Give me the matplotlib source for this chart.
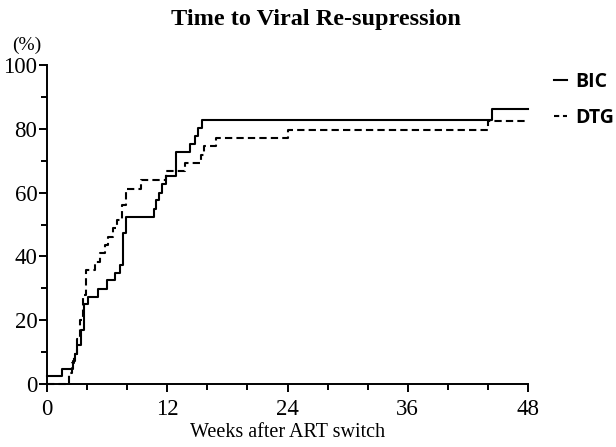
import matplotlib
matplotlib.use("Agg")
import matplotlib.pyplot as plt
from matplotlib.lines import Line2D
from matplotlib.ticker import MultipleLocator

# Kaplan-Meier style cumulative re-suppression (%), step after each time
bic_weeks = [0, 1.5, 2.6, 2.8, 3.0, 3.4, 3.7, 4.1, 5.1, 6.0, 6.8, 7.3, 7.6, 7.9,
             10.7, 10.9, 11.2, 11.5, 11.85, 12.9, 14.3, 14.8, 15.1, 15.5, 44.4, 48]
bic_pct = [2.4, 4.8, 7.1, 9.5, 12.2, 17.0, 25.0, 27.4, 29.8, 32.5, 34.8, 37.3, 47.2, 52.4,
           55.0, 57.6, 60.0, 62.6, 65.3, 72.6, 75.2, 77.6, 80.2, 82.8, 86.2, 86.2]

dtg_weeks = [0, 2.2, 2.5, 2.7, 3.0, 3.3, 3.6, 3.9, 4.8, 5.3, 5.8, 6.1, 6.6, 7.0, 7.5, 7.9,
             9.4, 11.9, 13.8, 15.4, 15.7, 16.9, 24.0, 44.0, 48]
dtg_pct = [0, 3.3, 6.5, 9.5, 14.0, 20.0, 28.0, 35.7, 38.3, 41.0, 43.6, 46.2, 48.8, 51.4, 56.1, 61.2,
           64.1, 66.7, 69.3, 71.8, 74.5, 77.0, 79.6, 82.4, 82.4]

x_ticks = [0, 12, 24, 36, 48]
y_ticks = [0, 20, 40, 60, 80, 100]

serif = "Liberation Serif"

fig = plt.figure(figsize=(6.16, 4.47), dpi=100)
ax = fig.add_axes([47 / 616, 1 - 384 / 447, 481 / 616, 319 / 447])

ax.plot(bic_weeks, bic_pct, drawstyle="steps-post", color="black", lw=1.5, clip_on=False)
ax.plot(dtg_weeks, dtg_pct, drawstyle="steps-post", color="black", lw=1.5,
        linestyle=(0, (3.5, 2)), clip_on=False)

ax.set_xlim(0, 48)
ax.set_ylim(0, 100)
ax.set_xticks(x_ticks)
ax.set_yticks(y_ticks)
ax.xaxis.set_minor_locator(MultipleLocator(4))
ax.yaxis.set_minor_locator(MultipleLocator(10))
ax.spines["top"].set_visible(False)
ax.spines["right"].set_visible(False)
for s in ("left", "bottom"):
    ax.spines[s].set_linewidth(1.4)
ax.tick_params(which="major", length=6, width=1.4, direction="out")
ax.tick_params(which="minor", length=4, width=1.4, direction="out")
ax.tick_params(axis="x", which="major", pad=5)
ax.tick_params(axis="y", which="major", pad=1)
for lab in ax.get_xticklabels() + ax.get_yticklabels():
    lab.set_fontfamily(serif)
    lab.set_fontsize(16.5)

ax.set_xlabel("Weeks after ART switch", fontfamily=serif, fontsize=14.5, labelpad=2)
ax.text(-0.042, 1.063, "(%)", transform=ax.transAxes, ha="center", va="center",
        fontfamily=serif, fontsize=14)
fig.text(316 / 616, 1 - 20 / 447, "Time to Viral Re-supression", ha="center", va="center",
         fontfamily=serif, fontsize=17.5, fontweight="bold")

handles = [
    Line2D([], [], color="black", lw=1.5),
    Line2D([], [], color="black", lw=1.5, linestyle=(0, (2.5, 1.8))),
]
fig.legend(handles, ["BIC", "DTG"], loc="center left",
           bbox_to_anchor=(554 / 616, 1 - 100 / 447), frameon=False,
           borderpad=0, borderaxespad=0,
           handlelength=0.65, handletextpad=0.45, labelspacing=0.85,
           prop={"family": ["Open Sans", "DejaVu Sans"], "weight": "bold", "size": 14})

plt.savefig("out.png", dpi=100)
plt.close()
